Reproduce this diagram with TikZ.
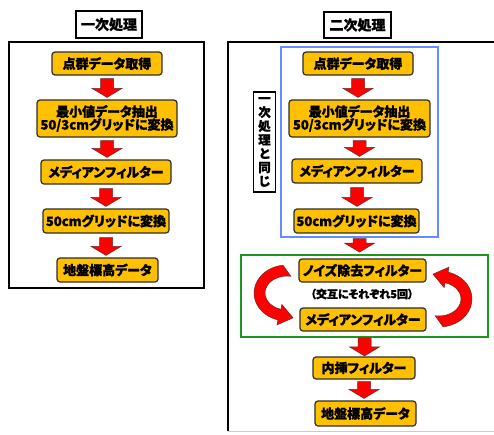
\documentclass[tikz,border=0pt]{standalone}
\usepackage{fontspec}
\newfontfamily\jp{Noto Sans CJK JP}[CharacterWidth=AlternateProportional, BoldFeatures={FakeBold=1.2}]
\usetikzlibrary{calc}
\definecolor{boxfill}{RGB}{255,192,0}
\definecolor{boxedge}{RGB}{45,45,45}
\definecolor{arrred}{RGB}{255,0,0}
\definecolor{arredge}{RGB}{110,40,40}
\definecolor{bluebox}{RGB}{100,140,255}
\definecolor{greenbox}{RGB}{30,150,30}
\tikzset{
  stepbox/.style={draw=boxedge, fill=boxfill, rounded corners=3pt, line width=1.2pt,
    font=\jp\bfseries\fontsize{13}{15}\selectfont, inner sep=0pt, align=center},
  titlebox/.style={draw=black, line width=1.8pt, fill=white, inner sep=0pt,
    font=\jp\bfseries\fontsize{14}{16}\selectfont},
  framebox/.style={draw=black, line width=1.8pt, inner sep=0pt},
  blockarrow/.style={draw=arredge, fill=arrred, line width=0.5pt},
  curvearr/.style={draw=arredge, fill=arrred, line width=0.5pt},
}
\newcommand\blkarrow[4]{%
  \path[blockarrow] let \p1=(#1.south), \p2=(#2.north) in
  (\x1-6.5pt,\y1-#3pt) -- (\x1+6.5pt,\y1-#3pt) -- (\x1+6.5pt,\y2+#4pt+9pt)
  -- (\x1+15pt,\y2+#4pt+9pt) -- (\x1,\y2+#4pt) -- (\x1-15pt,\y2+#4pt+9pt)
  -- (\x1-6.5pt,\y2+#4pt+9pt) -- cycle;}
\newcommand\loopshape{%
  \path[curvearr] (-4.02,-27.79) arc[start angle=-97, end angle=-254, x radius=33, y radius=28]
  -- (-9.98,31.86) -- (6.06,24.84) -- (-5.18,11.40) -- (-6.06,16.34)
  arc[start angle=-254, end angle=-80, x radius=22, y radius=17] -- cycle;}
\begin{document}
\begin{tikzpicture}[x=1pt,y=-1pt]
\useasboundingbox (0,0) rectangle (494,434);
\fill[white] (0,0) rectangle (494,434);
% frames
\node[framebox, minimum width=195pt, minimum height=246pt] (lframe) at (106.5,165) {};
\draw[black, line width=1.8pt] (228,431) -- (228,42) -- (500,42);
\draw[gray!40, line width=1pt] (228,431.5) -- (500,431.5);
\coordinate (rframe) at (228,42);
% titles
\node[titlebox, minimum width=66pt, minimum height=27pt] (ltitle) at (109,24.5) {一次処理};
\node[titlebox, minimum width=67pt, minimum height=26pt] (rtitle) at (357.5,25) {二次処理};
% left column
\node[stepbox, minimum width=110pt, minimum height=23pt] (l1) at (107,63.5) {点群データ取得};
\node[stepbox, minimum width=140pt, minimum height=37pt] (l2) at (107,118.5) {最小値データ抽出\\[-2pt]50/3cmグリッドに変換};
\node[stepbox, minimum width=130pt, minimum height=24pt] (l3) at (106,172) {メディアンフィルター};
\node[stepbox, minimum width=126pt, minimum height=24pt] (l4) at (106,221) {50cmグリッドに変換};
\node[stepbox, minimum width=101pt, minimum height=24pt] (l5) at (107.5,270) {地盤標高データ};
\blkarrow{l1}{l2}{3}{2}
\blkarrow{l2}{l3}{3}{2}
\blkarrow{l3}{l4}{4}{2}
\blkarrow{l4}{l5}{4}{2}
% right column
\node[draw=bluebox, line width=1.3pt, minimum width=157pt, minimum height=190pt, inner sep=0pt] (blue) at (359.5,142) {};
\node[draw=black, line width=1.4pt, fill=white, inner sep=0pt, minimum width=22pt, minimum height=100pt,
  align=center, font=\jp\bfseries\fontsize{12.5}{13.8}\selectfont] (same) at (264.5,142)
  {一\\次\\処\\理\\と\\同\\じ};
\node[stepbox, minimum width=110pt, minimum height=23pt] (r1) at (358,63.5) {点群データ取得};
\node[stepbox, minimum width=141pt, minimum height=37pt] (r2) at (359.5,118.5) {最小値データ抽出\\[-2pt]50/3cmグリッドに変換};
\node[stepbox, minimum width=130pt, minimum height=24pt] (r3) at (357,171) {メディアンフィルター};
\node[stepbox, minimum width=125pt, minimum height=24pt] (r4) at (356.5,221) {50cmグリッドに変換};
\blkarrow{r1}{r2}{3}{2}
\blkarrow{r2}{r3}{3}{2}
\blkarrow{r3}{r4}{4}{2}
\node[draw=greenbox, line width=1.8pt, minimum width=247pt, minimum height=82pt, inner sep=0pt] (green) at (364.5,296) {};
\node[stepbox, minimum width=127pt, minimum height=23pt] (noise) at (362.5,270.5) {ノイズ除去フィルター};
\node[font=\jp\bfseries\fontsize{11}{12}\selectfont, inner sep=0pt] (alt) at (362,294) {（交互にそれぞれ5回）};
\node[stepbox, minimum width=126pt, minimum height=23pt] (median) at (363,319.5) {メディアンフィルター};
\node[stepbox, minimum width=102pt, minimum height=22pt] (interp) at (364,368) {内挿フィルター};
\node[stepbox, minimum width=101pt, minimum height=25pt] (ground) at (365.5,413.5) {地盤標高データ};
\blkarrow{blue}{green}{1}{2}
\blkarrow{green}{interp}{0}{0.5}
\blkarrow{interp}{ground}{2}{2}
% loop arrows
\begin{scope}[shift={(287,293)}]\loopshape\end{scope}
\begin{scope}[shift={(439,299)}, rotate=180]\loopshape\end{scope}
\end{tikzpicture}
\end{document}
